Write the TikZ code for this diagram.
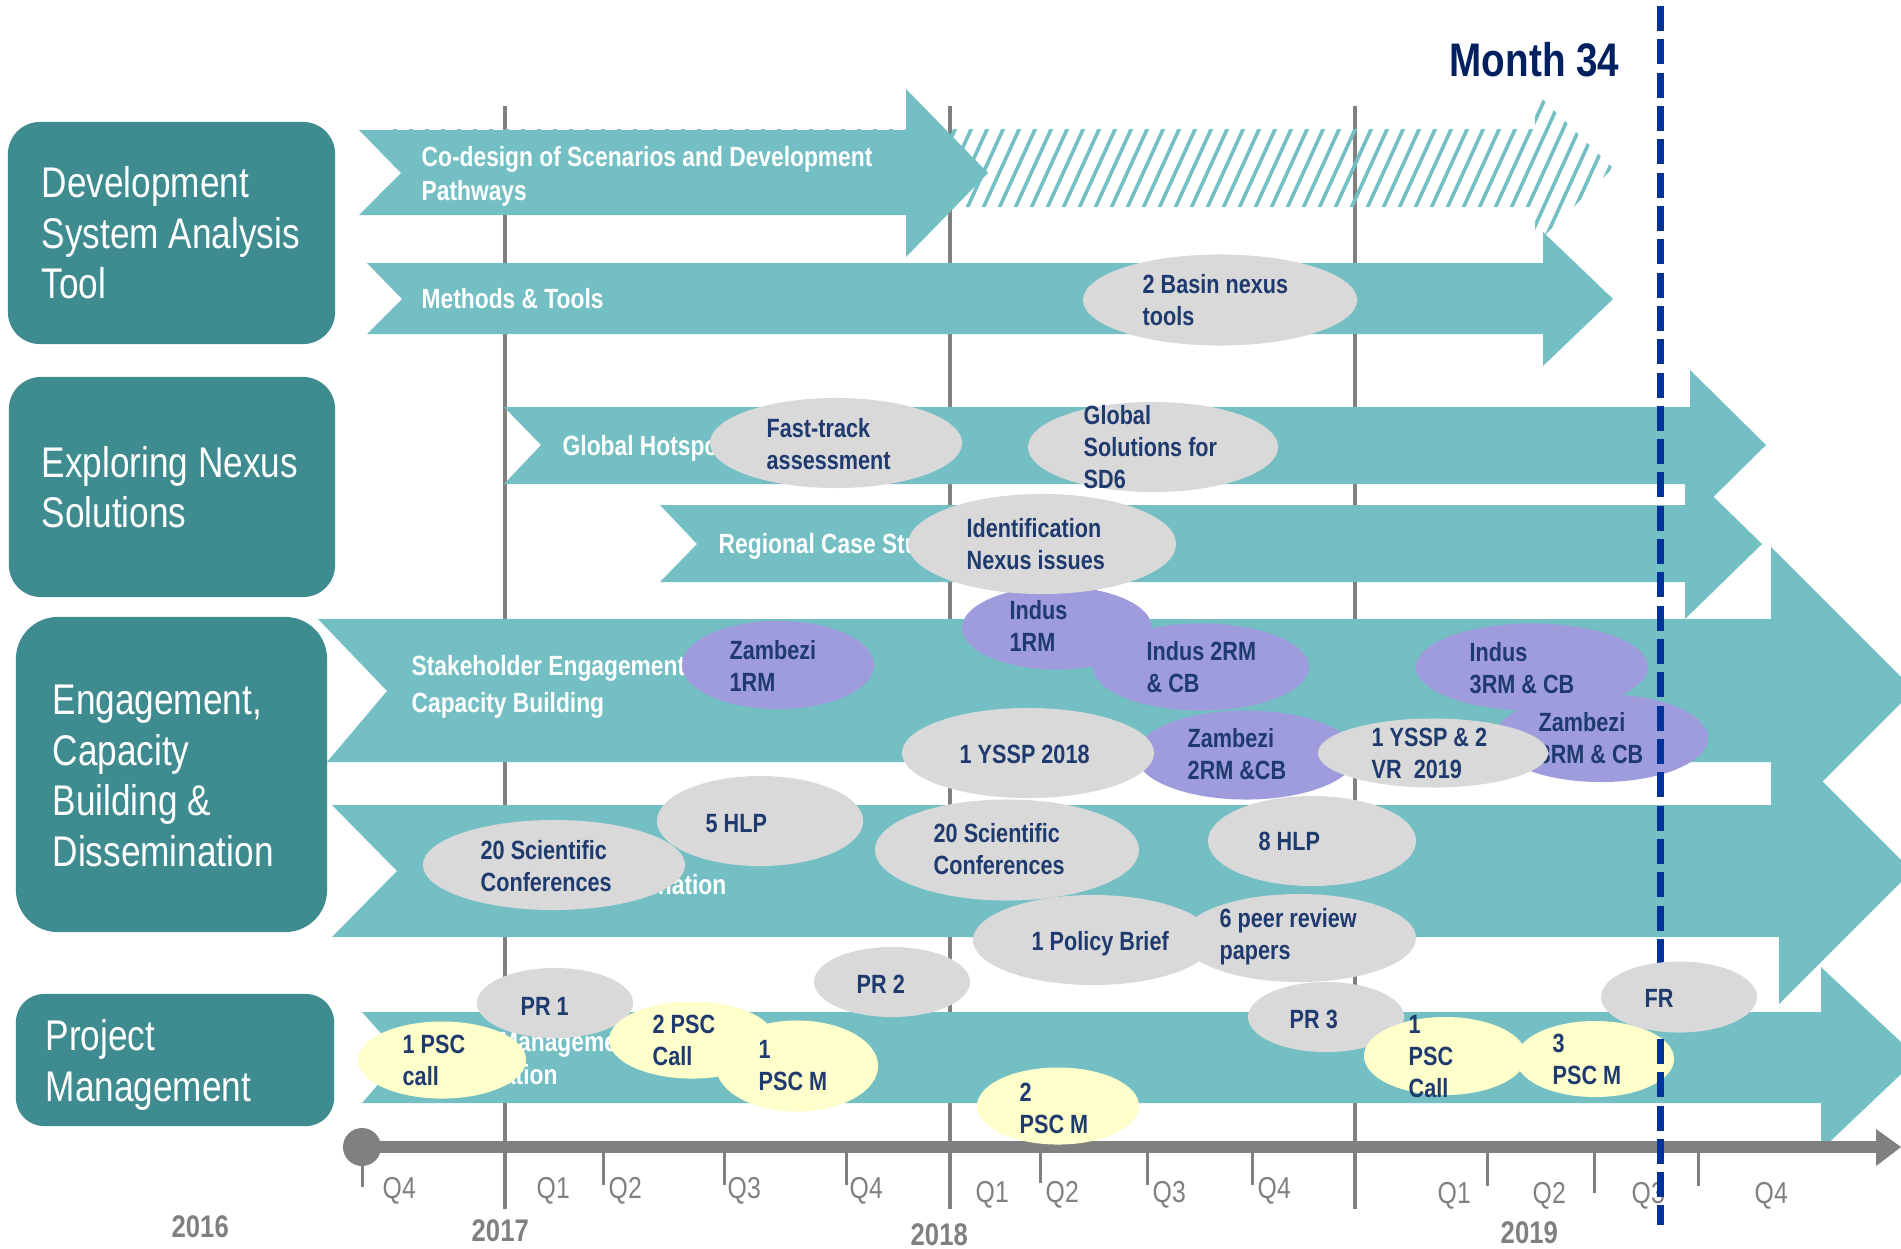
\documentclass[tikz,border=0pt]{standalone}
\usepackage{fontspec}
\setmainfont{Liberation Sans}[FakeStretch=0.82]
\usepackage{tikz}
\usetikzlibrary{shapes.geometric}
\definecolor{sectteal}{HTML}{3E8B90}
\definecolor{bandteal}{HTML}{74BFC4}
\definecolor{ovalgray}{HTML}{D9D9D9}
\definecolor{ovallilac}{HTML}{9E9CDC}
\definecolor{ovalcream}{HTML}{FFFFCC}
\definecolor{inknavy}{HTML}{1F3A6E}
\definecolor{monthnavy}{HTML}{002060}
\definecolor{markblue}{HTML}{003399}
\definecolor{axisgray}{HTML}{808080}

\begin{document}
\begin{tikzpicture}[x=0.01cm, y=-0.01cm,
  sect/.style={fill=sectteal, rounded corners=0.32cm, inner sep=0pt},
  secttxt/.style={text=white, align=left, inner sep=0pt, anchor=west, font=\fontsize{12.2}{14.4}\selectfont},
  band/.style={fill=bandteal},
  bandtxt/.style={text=white, align=left, inner sep=0pt, font=\bfseries\fontsize{7.9}{9.6}\selectfont},
  oval/.style={ellipse, inner sep=0pt},
  greyoval/.style={oval, fill=ovalgray},
  lilacoval/.style={oval, fill=ovallilac},
  creamoval/.style={oval, fill=ovalcream},
  ovtxt/.style={text=inknavy, align=left, inner sep=0pt, anchor=west, font=\bfseries\fontsize{7.5}{9.1}\selectfont},
  yearline/.style={draw=axisgray, line width=0.045cm},
  qtick/.style={draw=axisgray, line width=0.03cm},
  qlbl/.style={text=axisgray, inner sep=0pt, anchor=base west, font=\fontsize{8.6}{10}\selectfont},
  yearlbl/.style={text=axisgray, inner sep=0pt, anchor=base west, font=\bfseries\fontsize{8.9}{10}\selectfont}
]
  \useasboundingbox (0,0) rectangle (1901,1248);
  \clip (0,0) rectangle (1901,1248);

  % year grid
  \foreach \gx in {505,950,1355}
    \draw[yearline] (\gx,106) -- (\gx,1209);

  % section boxes
  \node[sect, minimum width=3.27cm, minimum height=2.22cm] (dsat) at (171.5,233) {};
  \node[secttxt] (dsatt) at (41,233) {Development\\System Analysis\\Tool};
  \node[sect, minimum width=3.26cm, minimum height=2.20cm] (ens) at (172,487) {};
  \node[secttxt] (enst) at (41,487) {Exploring Nexus\\Solutions};
  \node[sect, rounded corners=0.42cm, minimum width=3.11cm, minimum height=3.15cm] (ecbd) at (171.5,774.5) {};
  \node[secttxt] (ecbdt) at (52,776) {Engagement,\\Capacity\\Building \&\\Dissemination};
  \node[sect, rounded corners=0.28cm, minimum width=3.18cm, minimum height=1.32cm] (pm) at (175,1060) {};
  \node[secttxt] (pmt) at (45,1065) {Project\\Management};

  % hatched continuation of the co-design band
  \begin{scope}
    \clip (359,129) -- (1535,129) -- (1535,92) -- (1613,168) -- (1535,245) -- (1535,207) -- (367,207) -- (401,173) -- (359,130) -- cycle;
    \foreach \i in {0,...,82}
      \draw[bandteal, line width=0.036cm] ({340+16*\i},250) -- ++(73,-160);
  \end{scope}

  % bands
  \fill[band] (359,130) -- (401,173) -- (359,215) -- (906,215) -- (906,257) -- (988,173) -- (906,89) -- (906,130) -- cycle;
  \fill[band] (367,263) -- (402,299) -- (367,334) -- (1543,334) -- (1543,366) -- (1613,299) -- (1543,232) -- (1543,263) -- cycle;
  \fill[band] (504,407) -- (541,445) -- (504,484) -- (1690,484) -- (1690,520) -- (1766,445) -- (1690,370) -- (1690,407) -- cycle;
  \fill[band] (660,505) -- (697,544) -- (660,582) -- (1685,582) -- (1685,619) -- (1762,544) -- (1685,469) -- (1685,505) -- cycle;
  \fill[band] (318,619) -- (387,691) -- (327,762) -- (1771,762) -- (1771,833) -- (1914,690) -- (1771,547) -- (1771,619) -- cycle;
  \fill[band] (332,805) -- (397,871) -- (332,937) -- (1779,937) -- (1779,1004) -- (1912,871) -- (1779,738) -- (1779,805) -- cycle;
  \fill[band] (362,1012) -- (402,1057) -- (362,1103) -- (1821,1103) -- (1821,1150) -- (1918,1058) -- (1821,967) -- (1821,1012) -- cycle;

  \node[bandtxt, anchor=west] (codesign) at (421,176) {Co-design of Scenarios and Development\\Pathways};
  \node[bandtxt, anchor=base west] (methods) at (421,308) {Methods \& Tools};
  \node[bandtxt, anchor=base west] (hotspots) at (562,455) {Global Hotspots};
  \node[bandtxt, anchor=base west] (regional) at (718,553) {Regional Case Studies};
  \node[bandtxt, anchor=west] (stake) at (411,687) {Stakeholder Engagement \&\\[1pt]Capacity Building};
  \node[bandtxt, anchor=base east] (dissem) at (727,894) {Dissemination};
  \node[bandtxt, anchor=west] (pmband) at (415,1058) {Project Management\\Coordination};

  % timeline
  \draw[axisgray, line width=0.117cm] (362,1147) -- (1878,1147);
  \fill[axisgray] (1876,1129) -- (1901,1147) -- (1876,1166) -- cycle;
  \fill[axisgray] (362,1147) circle (0.19cm);
  \foreach \tx/\ty in {362/1187, 603/1185, 724/1185, 846/1185, 1040/1183, 1147/1185, 1252/1185, 1487/1186, 1594/1193, 1698/1186}
    \draw[qtick] (\tx,1147) -- (\tx,\ty);
  \foreach \qx/\qy/\qn in {382/1198/Q4, 536/1198/Q1, 608/1198/Q2, 727/1198/Q3, 849/1198/Q4,
                          975/1202/Q1, 1045/1202/Q2, 1152/1202/Q3, 1257/1198/Q4,
                          1437/1203/Q1, 1532/1203/Q2, 1631/1203/Q3, 1754/1203/Q4}
    \node[qlbl] (q\qx) at (\qx,\qy) {\qn};
  \node[yearlbl] (y2016) at (171,1237) {2016};
  \node[yearlbl] (y2017) at (471,1241) {2017};
  \node[yearlbl] (y2018) at (910,1245) {2018};
  \node[yearlbl] (y2019) at (1500,1243) {2019};

  % milestones
  \node[greyoval, minimum width=2.74cm, minimum height=0.91cm] (basin) at (1220,300) {};
  \node[ovtxt] (basint) at (1142,300) {2 Basin nexus\\tools};
  \node[greyoval, minimum width=2.52cm, minimum height=0.90cm] (fast) at (836,443) {};
  \node[ovtxt] (fastt) at (766,444) {Fast-track\\assessment};
  \node[greyoval, minimum width=2.50cm, minimum height=0.90cm] (gsol) at (1153,447) {};
  \node[ovtxt] (gsolt) at (1083,447) {Global\\Solutions for\\SD6};
  \node[lilacoval, minimum width=1.90cm, minimum height=0.83cm] (ind1) at (1057,628) {};
  \node[ovtxt] (ind1t) at (1009,626) {Indus\\1RM};
  \node[greyoval, minimum width=2.68cm, minimum height=1.00cm] (ident) at (1042,544) {};
  \node[ovtxt] (identt) at (966,544) {Identification\\Nexus issues};
  \node[lilacoval, minimum width=1.92cm, minimum height=0.88cm] (zam1) at (778,665) {};
  \node[ovtxt] (zam1t) at (729,666) {Zambezi\\1RM};
  \node[lilacoval, minimum width=2.16cm, minimum height=0.87cm] (ind2) at (1201,667) {};
  \node[ovtxt] (ind2t) at (1146,667) {Indus 2RM\\\& CB};
  \node[lilacoval, minimum width=2.32cm, minimum height=0.87cm] (ind3) at (1532,667) {};
  \node[ovtxt] (ind3t) at (1469,668) {Indus\\3RM \& CB};
  \node[lilacoval, minimum width=2.14cm, minimum height=0.88cm] (zam3) at (1601,738) {};
  \node[ovtxt] (zam3t) at (1538,738) {Zambezi\\3RM \& CB};
  \node[lilacoval, minimum width=2.20cm, minimum height=0.89cm] (zam2) at (1246,755) {};
  \node[ovtxt] (zam2t) at (1187,754) {Zambezi\\2RM \&CB};
  \node[greyoval, minimum width=2.52cm, minimum height=0.90cm] (yssp18) at (1028,753) {};
  \node[ovtxt, anchor=base west] (yssp18t) at (959,763) {1 YSSP 2018};
  \node[greyoval, minimum width=2.30cm, minimum height=0.69cm] (yssp19) at (1433,753) {};
  \node[ovtxt] (yssp19t) at (1371,753) {1 YSSP \& 2\\VR~~2019};
  \node[greyoval, minimum width=2.06cm, minimum height=0.90cm] (hlp5) at (760,821) {};
  \node[ovtxt, anchor=base west] (hlp5t) at (705,832) {5 HLP};
  \node[greyoval, minimum width=2.62cm, minimum height=0.90cm] (sci1) at (554,865) {};
  \node[ovtxt] (sci1t) at (480,866) {20 Scientific\\Conferences};
  \node[greyoval, minimum width=2.64cm, minimum height=1.01cm] (sci2) at (1007,850) {};
  \node[ovtxt] (sci2t) at (933,849) {20 Scientific\\Conferences};
  \node[greyoval, minimum width=2.08cm, minimum height=0.90cm] (hlp8) at (1312,841) {};
  \node[ovtxt, anchor=base west] (hlp8t) at (1258,850) {8 HLP};
  \node[greyoval, minimum width=2.40cm, minimum height=0.90cm] (policy) at (1093,940) {};
  \node[ovtxt, anchor=base west] (policyt) at (1031,950) {1 Policy Brief};
  \node[greyoval, minimum width=2.34cm, minimum height=0.88cm] (peer) at (1299,938) {};
  \node[ovtxt] (peert) at (1219,937) {6 peer review\\papers};
  \node[greyoval, minimum width=1.56cm, minimum height=0.70cm] (pr1) at (555,1003) {};
  \node[ovtxt, anchor=base west] (pr1t) at (520,1015) {PR 1};
  \node[greyoval, minimum width=1.56cm, minimum height=0.70cm] (pr2) at (892,982) {};
  \node[ovtxt, anchor=base west] (pr2t) at (856,993) {PR 2};
  \node[greyoval, minimum width=1.56cm, minimum height=0.70cm] (pr3) at (1326,1017) {};
  \node[ovtxt, anchor=base west] (pr3t) at (1289,1028) {PR 3};
  \node[creamoval, minimum width=1.68cm, minimum height=0.77cm] (psc1) at (442,1060) {};
  \node[ovtxt] (psc1t) at (402,1060) {1 PSC\\call};
  \node[creamoval, minimum width=1.66cm, minimum height=0.77cm] (psc2) at (692,1040) {};
  \node[ovtxt] (psc2t) at (652,1040) {2 PSC\\Call};
  \node[creamoval, minimum width=1.62cm, minimum height=0.91cm] (pscm1) at (797,1066) {};
  \node[ovtxt] (pscm1t) at (758,1066) {1\\PSC M};
  \node[creamoval, minimum width=1.62cm, minimum height=0.77cm] (pscm2) at (1058,1106) {};
  \node[ovtxt] (pscm2t) at (1019,1108) {2\\PSC M};
  \node[creamoval, minimum width=1.62cm, minimum height=0.78cm] (psc3) at (1445,1056) {};
  \node[ovtxt] (psc3t) at (1408,1057) {1\\PSC\\Call};
  \node[creamoval, minimum width=1.58cm, minimum height=0.76cm] (pscm3) at (1595,1059) {};
  \node[ovtxt] (pscm3t) at (1552,1059) {3\\PSC M};

  % current month marker
  \node[anchor=base west, inner sep=0pt, text=monthnavy, font=\bfseries\fontsize{13.4}{15}\selectfont] (month) at (1449,76) {Month 34};
  \draw[markblue, line width=0.07cm, dash pattern=on 0.25cm off 0.083cm] (1660,6) -- (1660,1225);

  \node[greyoval, minimum width=1.56cm, minimum height=0.71cm] (fr) at (1679,997) {};
  \node[ovtxt, anchor=base west] (frt) at (1644,1007) {FR};
\end{tikzpicture}
\end{document}
